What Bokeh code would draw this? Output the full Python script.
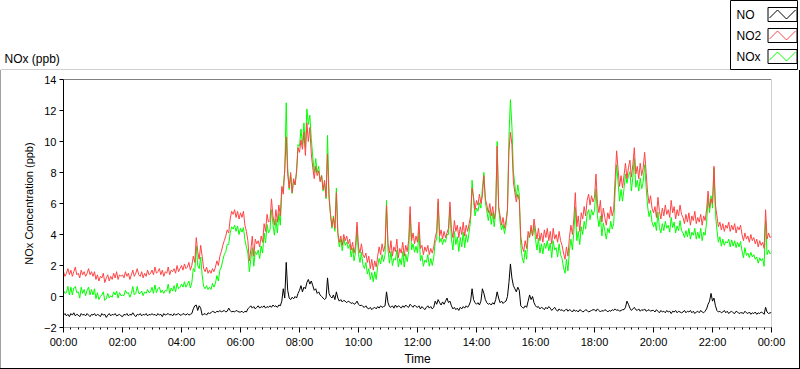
from bokeh.plotting import figure
from bokeh.models import Range1d, FixedTicker, Span, Div
from bokeh.layouts import column, row
from bokeh.core.properties import value
from bokeh.embed import file_html
from bokeh.resources import INLINE

FONT = "Liberation Sans"

# ---------------- data ----------------
title_text = "NOx (ppb)"
x_label = "Time"
y_label = "NOx Concentration (ppb)"
tick_hours = [0, 2, 4, 6, 8, 10, 12, 14, 16, 18, 20, 22, 24]
tick_labels = ["00:00", "02:00", "04:00", "06:00", "08:00", "10:00", "12:00",
               "14:00", "16:00", "18:00", "20:00", "22:00", "00:00"]
y_ticks = [-2, 0, 2, 4, 6, 8, 10, 12, 14]
series_names = ["NO", "NO2", "NOx"]
series_colors = ["#000000", "#ff4444", "#00ff00"]

# NO2 (ppb), one value every 3 minutes from 00:00 to 24:00 (one row per hour)
no2 = [
    1.6, 1.3, 1.5, 1.8, 1.4, 1.7, 1.3, 1.6, 1.9, 1.4, 1.5, 1.2, 1.7, 1.4, 1.6, 1.3, 1.5, 1.8, 1.4, 1.6,
    1.3, 1.6, 1.1, 1.4, 1.0, 1.3, 1.2, 1.5, 0.9, 1.2, 1.4, 1.0, 1.3, 1.1, 1.5, 1.2, 1.6, 1.1, 1.4, 1.3,
    1.4, 1.2, 1.6, 1.3, 1.5, 1.1, 1.4, 1.7, 1.3, 1.5, 1.8, 1.4, 1.3, 1.6, 1.2, 1.5, 1.3, 1.7, 1.4, 1.5,
    1.7, 1.4, 1.9, 1.5, 1.6, 1.8, 1.4, 1.7, 1.3, 1.6, 1.5, 1.9, 1.4, 1.7, 1.6, 1.8, 1.5, 2.0, 1.6, 1.8,
    2.0, 1.7, 2.1, 1.8, 1.9, 2.2, 1.7, 2.0, 2.6, 2.2, 3.8, 2.9, 2.4, 3.3, 2.6, 1.8, 1.6, 1.9, 1.5, 1.7,
    1.5, 1.8, 1.6, 1.9, 2.3, 2.0, 2.6, 2.9, 3.3, 3.6, 3.9, 4.3, 4.1, 5.0, 5.5, 5.3, 5.6, 5.1, 5.5, 5.0,
    5.4, 5.1, 5.5, 4.6, 4.2, 3.6, 2.3, 3.0, 3.9, 2.6, 3.7, 3.4, 3.6, 3.2, 3.9, 3.5, 4.7, 4.2, 5.3, 4.8,
    4.9, 6.3, 5.2, 4.6, 5.6, 4.8, 5.9, 5.2, 7.1, 6.6, 8.2, 10.3, 7.9, 7.0, 8.0, 6.7, 7.6, 7.2, 8.1, 9.6,
    9.3, 10.1, 9.5, 10.6, 9.1, 11.2, 10.0, 10.9, 9.2, 8.3, 7.6, 8.4, 7.8, 8.1, 7.4, 7.8, 6.9, 7.5, 6.4, 9.2,
    6.4, 5.3, 4.5, 5.1, 4.4, 6.7, 4.1, 3.5, 3.9, 3.3, 4.0, 3.6, 3.9, 3.4, 3.7, 3.0, 3.5, 2.8, 3.3, 4.8,
    3.2, 2.8, 3.4, 2.7, 2.5, 2.8, 2.2, 2.6, 1.8, 2.4, 1.7, 2.3, 1.9, 2.6, 3.2, 2.7, 3.4, 2.9, 3.3, 5.9,
    3.4, 2.8, 3.6, 2.6, 3.2, 2.9, 3.7, 2.5, 3.1, 2.8, 3.5, 2.6, 3.3, 2.9, 3.6, 5.8, 3.6, 4.1, 3.4, 3.9,
    3.5, 4.8, 3.1, 3.3, 2.7, 3.2, 2.9, 3.3, 2.7, 3.1, 2.8, 3.2, 3.8, 4.2, 6.3, 3.9, 4.3, 3.7, 4.2, 3.8,
    4.1, 4.4, 6.1, 4.3, 3.8, 4.9, 4.2, 4.6, 3.8, 4.5, 4.0, 4.8, 3.9, 4.6, 4.2, 4.7, 5.2, 7.0, 6.4, 5.6,
    6.2, 5.9, 6.6, 6.0, 6.5, 7.8, 6.3, 5.9, 5.4, 6.0, 5.2, 5.8, 5.0, 5.6, 9.7, 5.8, 5.2, 4.6, 5.1, 4.4,
    4.9, 5.6, 9.4, 10.6, 9.8, 7.4, 6.7, 6.1, 6.6, 6.2, 3.9, 3.2, 2.9, 3.6, 3.1, 4.2, 3.8, 4.6, 3.9, 5.0,
    4.3, 3.7, 4.4, 3.6, 4.1, 3.5, 4.3, 3.8, 4.4, 3.6, 4.2, 3.4, 4.4, 3.7, 4.0, 3.5, 4.2, 3.6, 3.3, 2.8,
    2.4, 3.2, 2.6, 3.8, 4.6, 4.0, 5.0, 6.7, 4.5, 5.2, 4.2, 5.4, 5.0, 5.8, 5.2, 6.2, 6.6, 5.9, 6.5, 6.1,
    6.4, 7.9, 6.0, 5.4, 6.2, 4.8, 5.7, 5.1, 4.6, 5.4, 5.0, 5.8, 5.2, 5.6, 7.6, 9.4, 8.2, 7.1, 7.8, 7.0,
    7.8, 8.6, 7.6, 8.3, 8.8, 7.7, 8.5, 9.6, 7.9, 8.4, 7.6, 8.6, 7.8, 8.3, 9.3, 8.0, 6.7, 6.0, 6.5, 5.7,
    5.4, 5.8, 5.1, 6.4, 5.5, 5.0, 5.7, 5.2, 5.9, 5.3, 5.6, 5.1, 6.2, 5.4, 5.8, 5.0, 5.6, 5.2, 5.9, 5.3,
    5.1, 4.7, 5.3, 4.8, 5.4, 4.6, 5.2, 4.9, 5.5, 4.7, 5.1, 4.8, 5.3, 4.6, 5.2, 4.9, 5.6, 6.8, 5.7, 6.3,
    6.0, 8.4, 5.9, 5.2, 4.5, 4.8, 4.3, 4.7, 4.2, 4.6, 4.4, 4.8, 4.2, 4.6, 4.3, 4.7, 4.1, 4.5, 4.3, 4.6,
    4.0, 3.6, 4.1, 3.7, 3.9, 3.5, 4.0, 3.6, 3.8, 3.4, 3.7, 3.2, 3.6, 3.3, 3.5, 3.1, 5.6, 3.7, 4.1, 3.8,
    3.9,
]

# NO (ppb), same sampling
no = [
    -1.2, -1.1, -1.25, -1.15, -1.3, -1.1, -1.2, -1.05, -1.25, -1.15, -1.2, -1.3, -1.1, -1.2, -1.15, -1.25, -1.1, -1.2, -1.3, -1.15,
    -1.2, -1.1, -1.25, -1.15, -1.2, -1.3, -1.1, -1.2, -1.15, -1.35, -1.2, -1.1, -1.25, -1.15, -1.2, -1.1, -1.25, -1.2, -1.15, -1.25,
    -1.3, -1.15, -1.2, -1.1, -1.25, -1.15, -1.2, -1.05, -1.2, -1.3, -1.15, -1.2, -1.1, -1.25, -1.15, -1.2, -1.1, -1.25, -1.15, -1.2,
    -1.1, -1.2, -1.15, -1.25, -1.1, -1.2, -1.15, -1.3, -1.1, -1.2, -1.15, -1.1, -1.2, -1.15, -1.25, -1.1, -1.2, -1.15, -1.1, -1.2,
    -1.2, -1.1, -1.15, -1.2, -1.1, -1.2, -1.15, -1.1, -0.8, -0.6, -0.55, -0.9, -0.6, -0.75, -1.2, -1.15, -1.1, -1.2, -1.05, -1.1,
    -1.05, -0.95, -1.0, -1.05, -0.95, -1.0, -0.9, -1.0, -0.95, -0.9, -1.0, -0.95, -0.75, -0.9, -1.0, -0.95, -1.0, -0.9, -0.95, -1.0,
    -1.0, -0.95, -1.05, -0.95, -1.0, -0.8, -0.7, -0.6, -0.75, -0.65, -0.8, -0.7, -0.6, -0.75, -0.65, -0.7, -0.6, -0.75, -0.65, -0.7,
    -0.6, -0.7, -0.55, -0.65, -0.6, -0.7, -0.55, -0.6, -0.3, 0.5, -0.1, 2.2, 0.4, -0.1, -0.2, -0.05, -0.15, 0.0, -0.1, 0.2,
    0.4, 0.7, 0.3, 0.6, 0.5, 0.9, 1.1, 0.8, 1.0, 0.7, 0.4, 0.5, 0.2, 0.3, 0.1, 0.0, -0.1, -0.2, -0.1, 1.2,
    0.2, 0.0, -0.1, 0.1, -0.2, 0.3, -0.1, -0.3, -0.2, -0.35, -0.25, -0.3, -0.4, -0.3, -0.35, -0.45, -0.4, -0.5, -0.45, -0.3,
    -0.5, -0.6, -0.55, -0.65, -0.7, -0.6, -0.75, -0.8, -0.7, -0.85, -0.75, -0.7, -0.8, -0.65, -0.75, -0.6, -0.7, -0.65, -0.6, 0.3,
    -0.4, -0.65, -0.7, -0.6, -0.75, -0.55, -0.7, -0.6, -0.65, -0.75, -0.6, -0.7, -0.55, -0.65, -0.7, -0.5, -0.6, -0.7, -0.55, -0.65,
    -0.7, -0.6, -0.8, -0.65, -0.75, -0.85, -0.7, -0.6, -0.75, -0.65, -0.8, -0.7, -0.3, -0.5, -0.2, -0.4, -0.55, -0.35, -0.5, -0.3,
    -0.1, -0.4, -0.3, -0.6, -0.8, -0.7, -0.85, -0.75, -0.9, -0.7, -0.8, -0.65, -0.75, -0.6, -0.7, -0.55, -0.3, 0.5, -0.2, -0.4,
    -0.5, -0.4, -0.55, -0.3, 0.5, 0.2, -0.2, -0.4, -0.5, -0.45, -0.55, -0.4, -0.5, -0.2, 0.3, -0.1, -0.4, -0.3, -0.45, -0.35,
    -0.3, 0.0, 0.9, 2.1, 1.2, 0.7, 0.5, 0.3, 0.6, 0.4, -0.6, -0.7, -0.75, -0.6, -0.7, -0.3, 0.1, -0.2, 0.0, -0.4,
    -0.6, -0.7, -0.65, -0.8, -0.7, -0.75, -0.85, -0.7, -0.8, -0.65, -0.75, -0.9, -0.8, -0.7, -0.85, -0.95, -0.8, -0.9, -0.85, -0.95,
    -0.9, -0.8, -0.95, -0.85, -0.9, -1.0, -0.85, -0.95, -0.9, -1.0, -0.85, -0.9, -1.0, -0.95, -0.85, -0.9, -1.0, -0.95, -0.9, -0.85,
    -0.85, -0.95, -0.8, -0.9, -1.0, -0.9, -0.95, -0.85, -0.9, -1.0, -0.9, -0.95, -0.85, -0.9, -0.8, -0.9, -0.85, -0.95, -0.9, -0.85,
    -0.85, -0.7, -0.3, -0.5, -0.75, -0.9, -0.8, -0.7, -0.85, -0.9, -0.8, -0.95, -0.85, -0.9, -0.8, -0.95, -0.9, -0.85, -0.95, -0.9,
    -0.9, -1.0, -0.85, -0.95, -1.05, -0.9, -1.0, -0.95, -1.05, -0.9, -1.0, -0.95, -1.1, -0.95, -1.0, -0.9, -1.05, -0.95, -1.0, -1.05,
    -1.0, -0.9, -1.05, -0.95, -1.0, -0.9, -1.05, -0.95, -1.1, -1.0, -0.95, -1.05, -0.9, -1.0, -1.05, -0.95, -0.8, -0.5, -0.3, 0.2,
    -0.3, -0.1, -0.6, -0.9, -1.0, -0.95, -1.05, -1.0, -0.9, -1.05, -0.95, -1.1, -1.0, -0.95, -1.05, -1.1, -0.95, -1.0, -1.1, -1.05,
    -1.05, -1.1, -0.95, -1.05, -1.1, -1.0, -1.15, -1.05, -1.1, -1.0, -1.15, -1.05, -1.1, -1.0, -1.05, -1.15, -0.7, -1.0, -1.1, -1.05,
    -1.05,
]

hours = [i / 20 for i in range(len(no2))]
nox = [a + b for a, b in zip(no, no2)]  # NOx = NO + NO2

CRISP = ["svg path, svg line, svg polyline { shape-rendering: crispEdges; }"]

# ---------------- header (title + top edge of the panel) ----------------
head = figure(width=730, height=70, x_range=Range1d(0, 730), y_range=Range1d(0, 70),
              x_axis_type=None, y_axis_type=None, min_border=0,
              toolbar_location=None, output_backend="svg")
head.outline_line_color = None
head.text(x=[4], y=[12], text=[title_text], text_font=value(FONT),
          text_font_size="12px", text_baseline="middle", text_color="#000000")
head.add_layout(Span(location=0.5, dimension="width", line_color="#a0a0a0", line_width=1))

# ---------------- legend box ----------------
leg = figure(width=68, height=70, x_range=Range1d(0, 68), y_range=Range1d(0, 70),
             x_axis_type=None, y_axis_type=None, min_border=0,
             toolbar_location=None, output_backend="svg")
leg.outline_line_color = "#000000"
for k, (name, col) in enumerate(zip(series_names, series_colors)):
    yc = 56 - 21 * k
    leg.text(x=[6], y=[yc], text=[name], text_font=value(FONT), text_font_size="12px",
             text_baseline="middle", text_color="#000000")
    leg.quad(left=[37.5], right=[66.5], bottom=[yc - 7], top=[yc + 7],
             fill_color=None, line_color="#000000", line_width=1)
    leg.line(x=[39, 47, 56, 65], y=[yc - 3.5, yc + 4.5, yc - 4.5, yc + 4.5],
             line_color=col, line_width=1)

# ---------------- main chart ----------------
p = figure(width=798, height=298, x_range=Range1d(0, 24), y_range=Range1d(-2, 14),
           min_border_left=62, min_border_right=28, min_border_top=9, min_border_bottom=39,
           toolbar_location=None, output_backend="svg")
p.stylesheets = CRISP
p.grid.visible = False
p.outline_line_color = None
p.background_fill_color = "#ffffff"

p.line(hours, nox, line_color=series_colors[2], line_width=1)
p.line(hours, no2, line_color=series_colors[1], line_width=1)
p.line(hours, no, line_color=series_colors[0], line_width=1)

xa = p.xaxis[0]
xa.ticker = FixedTicker(ticks=tick_hours, minor_ticks=[q / 4 for q in range(97)])
xa.major_label_overrides = {h: lab for h, lab in zip(tick_hours, tick_labels)}
xa.axis_label = x_label
xa.axis_label_text_font = FONT
xa.axis_label_text_font_size = "12px"
xa.axis_label_text_font_style = "normal"
xa.axis_label_text_color = "#000000"
xa.axis_label_standoff = 1
xa.major_label_text_font = FONT
xa.major_label_text_font_size = "11px"
xa.major_label_text_color = "#000000"
xa.major_label_standoff = 3
xa.major_tick_in = 0
xa.major_tick_out = 5
xa.minor_tick_in = 0
xa.minor_tick_out = 2
xa.axis_line_color = "#a0a0a0"
xa.major_tick_line_color = "#000000"
xa.minor_tick_line_color = "#000000"

ya = p.yaxis[0]
ya.ticker = FixedTicker(ticks=y_ticks, minor_ticks=[])
ya.axis_label = y_label
ya.axis_label_text_font = FONT
ya.axis_label_text_font_size = "11px"
ya.axis_label_text_font_style = "normal"
ya.axis_label_text_color = "#000000"
ya.axis_label_standoff = 6
ya.major_label_text_font = FONT
ya.major_label_text_font_size = "11px"
ya.major_label_text_color = "#000000"
ya.major_label_standoff = 3
ya.major_tick_in = 0
ya.major_tick_out = 4
ya.axis_line_color = "#000000"
ya.major_tick_line_color = "#000000"

# plot-area border: dark top, light right
p.add_layout(Span(location=14, dimension="width", line_color="#000000", line_width=1))
p.add_layout(Span(location=24, dimension="height", line_color="#a0a0a0", line_width=1))

# outer panel edges: grey left, black right and bottom
left_edge = Div(width=1, height=298, margin=0, styles={"background-color": "#a0a0a0"})
right_edge = Div(width=1, height=298, margin=0, styles={"background-color": "#000000"})
bottom_edge = Div(width=800, height=1, margin=0, styles={"background-color": "#000000"})

layout = column(row(head, leg), row(left_edge, p, right_edge), bottom_edge)
open("out.html", "w").write(file_html(layout, INLINE))
